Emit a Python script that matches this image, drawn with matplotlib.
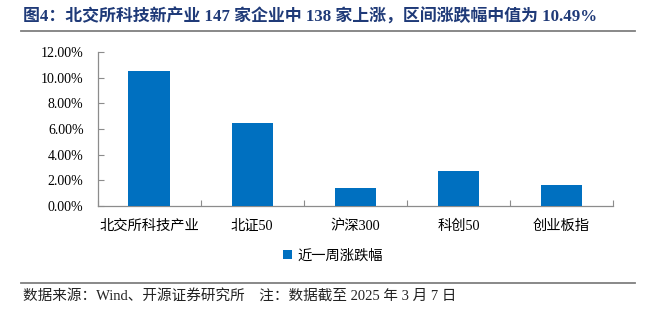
import matplotlib
matplotlib.use("Agg")
import matplotlib.pyplot as plt
from matplotlib.ticker import FuncFormatter, MultipleLocator
from matplotlib.lines import Line2D

categories = ["北交所科技产业", "北证50", "沪深300", "科创50", "创业板指"]
values = [10.49, 6.45, 1.37, 2.69, 1.60]
series_name = "近一周涨跌幅"
title = "图4：北交所科技新产业 147 家企业中 138 家上涨，区间涨跌幅中值为 10.49%"
footer = "数据来源：Wind、开源证券研究所    注：数据截至 2025 年 3 月 7 日"

FONTS = ["Liberation Serif", "Noto Sans CJK SC", "DejaVu Sans"]
plt.rcParams["font.family"] = FONTS

bar_color = "#0070C0"
title_color = "#1F3A78"
spine_color = "#8C8C8C"

W, H = 648, 324
fig = plt.figure(figsize=(W / 100, H / 100), dpi=100)
ax = fig.add_axes([97.5 / W, 1 - 206 / H, (613 - 97.5) / W, (206 - 52) / H])

x = list(range(len(categories)))
ax.bar(x, values, width=0.40, color=bar_color, label=series_name, zorder=3)

ax.set_xlim(-0.5, len(categories) - 0.5)
ax.set_ylim(0, 12)
ax.yaxis.set_major_locator(MultipleLocator(2))
ax.yaxis.set_major_formatter(FuncFormatter(lambda v, p: f"{v:.2f}%"))

ax.set_xticks(x)
ax.set_xticklabels(categories)
ax.set_xticks([i - 0.5 for i in range(len(categories) + 1)], minor=True)
ax.tick_params(axis="x", which="major", length=0, pad=10, labelsize=10.3)
ax.tick_params(axis="x", which="minor", length=4, direction="in", color=spine_color, width=0.8)
ax.tick_params(axis="y", which="major", length=4, direction="in", color=spine_color, width=0.8, labelsize=10, pad=10)

for s in ["top", "right"]:
    ax.spines[s].set_visible(False)
for s in ["left", "bottom"]:
    ax.spines[s].set_color(spine_color)
    ax.spines[s].set_linewidth(0.9)

fig.legend(*ax.get_legend_handles_labels(), loc="center left",
           bbox_to_anchor=(283 / W, 1 - 256 / H), bbox_transform=fig.transFigure,
           frameon=False, borderpad=0, borderaxespad=0,
           fontsize=10.3, handlelength=0.6, handleheight=0.6, handletextpad=0.4)

fig.text(23 / W, 1 - 17 / H, title, fontsize=12.2, fontweight="bold",
         color=title_color, va="center", ha="left")
fig.add_artist(Line2D([21 / W, 635 / W], [1 - 31 / H] * 2, color="#7F7F7F", lw=1.3))
fig.add_artist(Line2D([21 / W, 635 / W], [1 - 283 / H] * 2, color="#7F7F7F", lw=1.3))
fig.text(23 / W, 1 - 296 / H, footer, fontsize=10.5, color="#222222", va="center", ha="left")

fig.savefig("out.png", dpi=100)
